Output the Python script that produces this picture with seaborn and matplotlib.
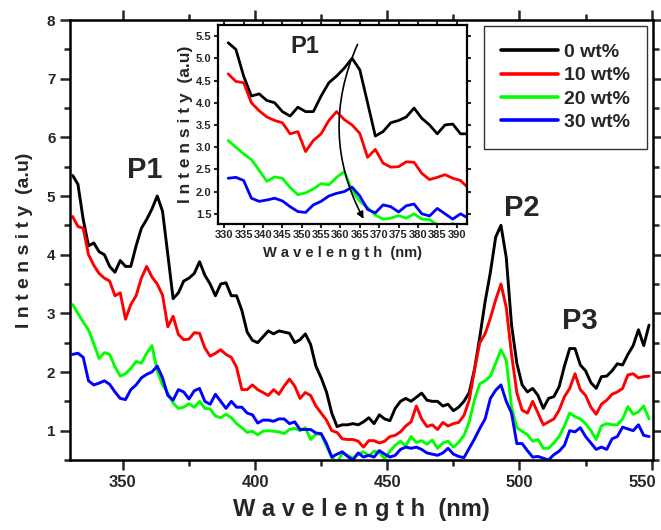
"""PL spectra of the four loadings, main plot plus P1 inset."""

import matplotlib

matplotlib.use("Agg")
import matplotlib.pyplot as plt
import matplotlib.transforms as mtransforms
import numpy as np
import pandas as pd
import seaborn as sns
from matplotlib.ticker import MultipleLocator

sns.set_style("ticks")
plt.rcParams["font.family"] = ["Liberation Sans", "DejaVu Sans"]
plt.rcParams["font.weight"] = "bold"
plt.rcParams["axes.labelweight"] = "bold"

# wavelength grid (nm)
wavelength = list(range(331, 551, 2))

int_0wt = [
    5.35, 5.2, 4.6, 4.15, 4.2, 4.05, 4.0, 3.8, 3.7, 3.9,
    3.8, 3.8, 4.15, 4.45, 4.6, 4.78, 5.0, 4.74, 4.0, 3.25,
    3.35, 3.55, 3.6, 3.68, 3.88, 3.65, 3.5, 3.3, 3.5, 3.52,
    3.3, 3.3, 3.05, 2.68, 2.54, 2.5, 2.6, 2.7, 2.65, 2.7,
    2.68, 2.66, 2.5, 2.55, 2.65, 2.47, 2.1, 1.9, 1.66, 1.3,
    1.07, 1.1, 1.1, 1.12, 1.1, 1.15, 1.22, 1.12, 1.27, 1.2,
    1.17, 1.38, 1.5, 1.55, 1.5, 1.57, 1.64, 1.52, 1.5, 1.5,
    1.42, 1.45, 1.34, 1.4, 1.5, 1.65, 2.05, 2.6, 3.2, 3.7,
    4.3, 4.5, 3.95, 2.8, 2.15, 1.78, 1.66, 1.72, 1.6, 1.38,
    1.55, 1.58, 1.75, 2.1, 2.4, 2.4, 2.12, 2.02, 1.82, 1.72,
    1.92, 1.93, 2.02, 2.14, 2.12, 2.3, 2.45, 2.72, 2.45, 2.8,
]
int_10wt = [
    4.65, 4.48, 4.45, 4.0, 3.82, 3.68, 3.6, 3.55, 3.3, 3.35,
    2.9, 3.15, 3.3, 3.6, 3.8, 3.62, 3.5, 3.31, 2.77, 2.95,
    2.64, 2.55, 2.56, 2.67, 2.66, 2.41, 2.27, 2.32, 2.38, 2.3,
    2.25, 2.08, 1.7, 1.7, 1.78, 1.7, 1.65, 1.6, 1.7, 1.62,
    1.76, 1.88, 1.76, 1.55, 1.65, 1.6, 1.42, 1.3, 1.18, 1.0,
    0.97, 0.86, 0.85, 0.85, 0.82, 0.72, 0.83, 0.83, 0.79, 0.82,
    0.9, 0.92, 0.98, 1.08, 1.15, 1.42, 1.2, 1.07, 1.1, 1.02,
    1.14, 1.08, 1.12, 1.14, 1.26, 1.52, 2.04, 2.5, 2.65, 2.92,
    3.23, 3.5, 3.1, 2.3, 1.65, 1.35, 1.3, 1.5, 1.3, 1.1,
    1.15, 1.2, 1.35, 1.58, 1.72, 1.97, 1.7, 1.6, 1.4, 1.28,
    1.45, 1.52, 1.62, 1.66, 1.72, 1.95, 1.97, 1.9, 1.92, 1.93,
]
int_20wt = [
    3.15, 3.0, 2.85, 2.72, 2.48, 2.23, 2.33, 2.3, 2.09, 1.93,
    1.97, 2.06, 2.18, 2.15, 2.32, 2.45, 2.02, 1.78, 1.64, 1.47,
    1.38, 1.4, 1.46, 1.4, 1.5, 1.38, 1.37, 1.25, 1.22, 1.28,
    1.22, 1.12, 1.05, 0.97, 0.99, 0.93, 0.99, 1.0, 0.99, 0.98,
    0.95, 1.02, 1.04, 1.0, 1.05, 0.85, 0.94, 0.94, 0.74, 0.55,
    0.45, 0.62, 0.58, 0.53, 0.6, 0.64, 0.57, 0.65, 0.63, 0.52,
    0.65, 0.75, 0.82, 0.74, 0.9, 0.8, 0.83, 0.77, 0.84, 0.7,
    0.79, 0.82, 0.72, 0.8, 0.92, 1.15, 1.53, 1.8, 1.85, 1.93,
    2.15, 2.38, 2.2, 1.4, 1.05, 0.99, 0.93, 0.82, 0.85, 0.7,
    0.7, 0.79, 0.9, 1.08, 1.3, 1.24, 1.2, 1.12, 1.0, 0.85,
    1.08, 1.12, 1.1, 1.1, 1.2, 1.41, 1.28, 1.32, 1.42, 1.2,
]
int_30wt = [
    2.3, 2.32, 2.25, 1.85, 1.78, 1.81, 1.85, 1.79, 1.66, 1.55,
    1.53, 1.7, 1.78, 1.9, 1.96, 2.0, 2.1, 1.9, 1.6, 1.52,
    1.7, 1.66, 1.54, 1.68, 1.72, 1.5, 1.45, 1.62, 1.5, 1.38,
    1.5, 1.4, 1.4, 1.3, 1.27, 1.13, 1.18, 1.18, 1.16, 1.2,
    1.2, 1.12, 1.15, 1.02, 1.02, 1.02, 0.96, 0.95, 0.78, 0.55,
    0.6, 0.64, 0.56, 0.5, 0.62, 0.55, 0.58, 0.55, 0.66, 0.6,
    0.55, 0.58, 0.68, 0.72, 0.7, 0.72, 0.68, 0.62, 0.6, 0.58,
    0.62, 0.7, 0.6, 0.56, 0.54, 0.7, 0.86, 1.04, 1.2, 1.55,
    1.69, 1.78, 1.5, 1.3, 0.78, 0.78, 0.66, 0.55, 0.56, 0.53,
    0.5, 0.59, 0.65, 0.75, 1.0, 0.98, 1.05, 0.9, 0.79, 0.68,
    0.72, 0.68, 0.86, 0.9, 1.06, 1.03, 1.0, 1.1, 0.92, 0.9,
]

samples = ["0 wt%", "10 wt%", "20 wt%", "30 wt%"]
colors = ["#000000", "#ff0000", "#00ff00", "#0000ff"]

# peak labels (main axes) and inset arrow
peak_labels = ["P1", "P2", "P3"]
peak_x = [358.3, 500.7, 523.0]
peak_y = [5.44, 4.8, 2.87]
arrow_start = (364.7, 5.37)
arrow_end = (366.3, 1.33)

df = pd.DataFrame({
    "Wavelength": wavelength * 4,
    "Intensity": int_0wt + int_10wt + int_20wt + int_30wt,
    "Sample": np.repeat(samples, len(wavelength)),
})

W, H = 661, 530
fig = plt.figure(figsize=(W / 100, H / 100), dpi=100)
ax = fig.add_axes([70 / W, 70 / H, 583 / W, 440 / H])

sns.lineplot(data=df, x="Wavelength", y="Intensity", hue="Sample",
             hue_order=samples, palette=colors, linewidth=2.1,
             estimator=None, sort=False, ax=ax)

ax.set_xlim(330, 550.5)
ax.set_ylim(0.5, 8)
ax.xaxis.set_major_locator(MultipleLocator(50))
ax.xaxis.set_minor_locator(MultipleLocator(25))
ax.yaxis.set_major_locator(MultipleLocator(1))
ax.yaxis.set_minor_locator(MultipleLocator(0.5))
ax.tick_params(which="both", direction="out", top=True, right=True, width=1.8)
ax.tick_params(which="major", length=7.5, pad=3)
ax.tick_params(which="minor", length=4)
ax.tick_params(axis="x", labelsize=12)
ax.tick_params(axis="y", labelsize=11)
for sp in ax.spines.values():
    sp.set_linewidth(1.8)
    sp.set_color("black")

ax.set_xlabel("W a v e l e n g t h  (nm)", fontsize=17, fontweight="bold", labelpad=6)
ax.set_ylabel("I n t e n s i t y  (a.u)", fontsize=14, fontweight="bold", labelpad=10)

for txt, px, py in zip(peak_labels, peak_x, peak_y):
    ax.text(px, py, txt, fontsize=21, fontweight="bold", ha="center", va="center")

handles, labels = ax.get_legend_handles_labels()
leg = ax.legend(handles, labels, loc="upper right", frameon=True, fancybox=False,
                framealpha=1, edgecolor="#333333", handlelength=2.9,
                handletextpad=0.3, borderpad=0.9, labelspacing=0.3,
                borderaxespad=0.3, prop={"weight": "bold", "size": 14})
leg.get_frame().set_linewidth(1.0)
for line in leg.get_lines():
    line.set_linewidth(2.6)

# inset zoom on P1
ax_in = fig.add_axes([217.7 / W, (H - 224) / H, 249 / W, 199 / H])
sns.lineplot(data=df, x="Wavelength", y="Intensity", hue="Sample",
             hue_order=samples, palette=colors, linewidth=2.0,
             estimator=None, sort=False, legend=False, ax=ax_in)
ax_in.set_xlim(328.3, 392.6)
ax_in.set_ylim(1.27, 5.75)
ax_in.xaxis.set_major_locator(MultipleLocator(5))
ax_in.yaxis.set_major_locator(MultipleLocator(0.5))
ax_in.yaxis.set_major_formatter("{x:.1f}")
ax_in.tick_params(which="both", direction="out", top=True, right=True,
                  length=3, width=1.5, pad=1.5, labelsize=8)
for sp in ax_in.spines.values():
    sp.set_linewidth(1.6)
    sp.set_color("black")
ax_in.set_xlabel("W a v e l e n g t h  (nm)", fontsize=10.5, fontweight="bold", labelpad=4)
ax_in.set_ylabel("I n t e n s i t y  (a.u)", fontsize=12.5, fontweight="bold", labelpad=2)
ax_in.text(350.8, 5.26, "P1", fontsize=17, fontweight="bold", ha="center", va="center")
ax_in.annotate("", xy=arrow_end, xytext=arrow_start,
               arrowprops=dict(arrowstyle="-|>", connectionstyle="arc3,rad=0.25",
                               color="black", lw=1.2, mutation_scale=10))

# bold tick labels; nudge the last x label so it stays inside the figure
fig.canvas.draw()
for a in (ax, ax_in):
    for lab in a.get_xticklabels() + a.get_yticklabels():
        lab.set_fontweight("bold")
shift = mtransforms.ScaledTranslation(-0.09, 0, fig.dpi_scale_trans)
for tick in ax.xaxis.get_major_ticks():
    if abs(tick.get_loc() - 550) < 1e-6:
        tick.label1.set_transform(tick.label1.get_transform() + shift)

fig.savefig("out.png", dpi=100)
